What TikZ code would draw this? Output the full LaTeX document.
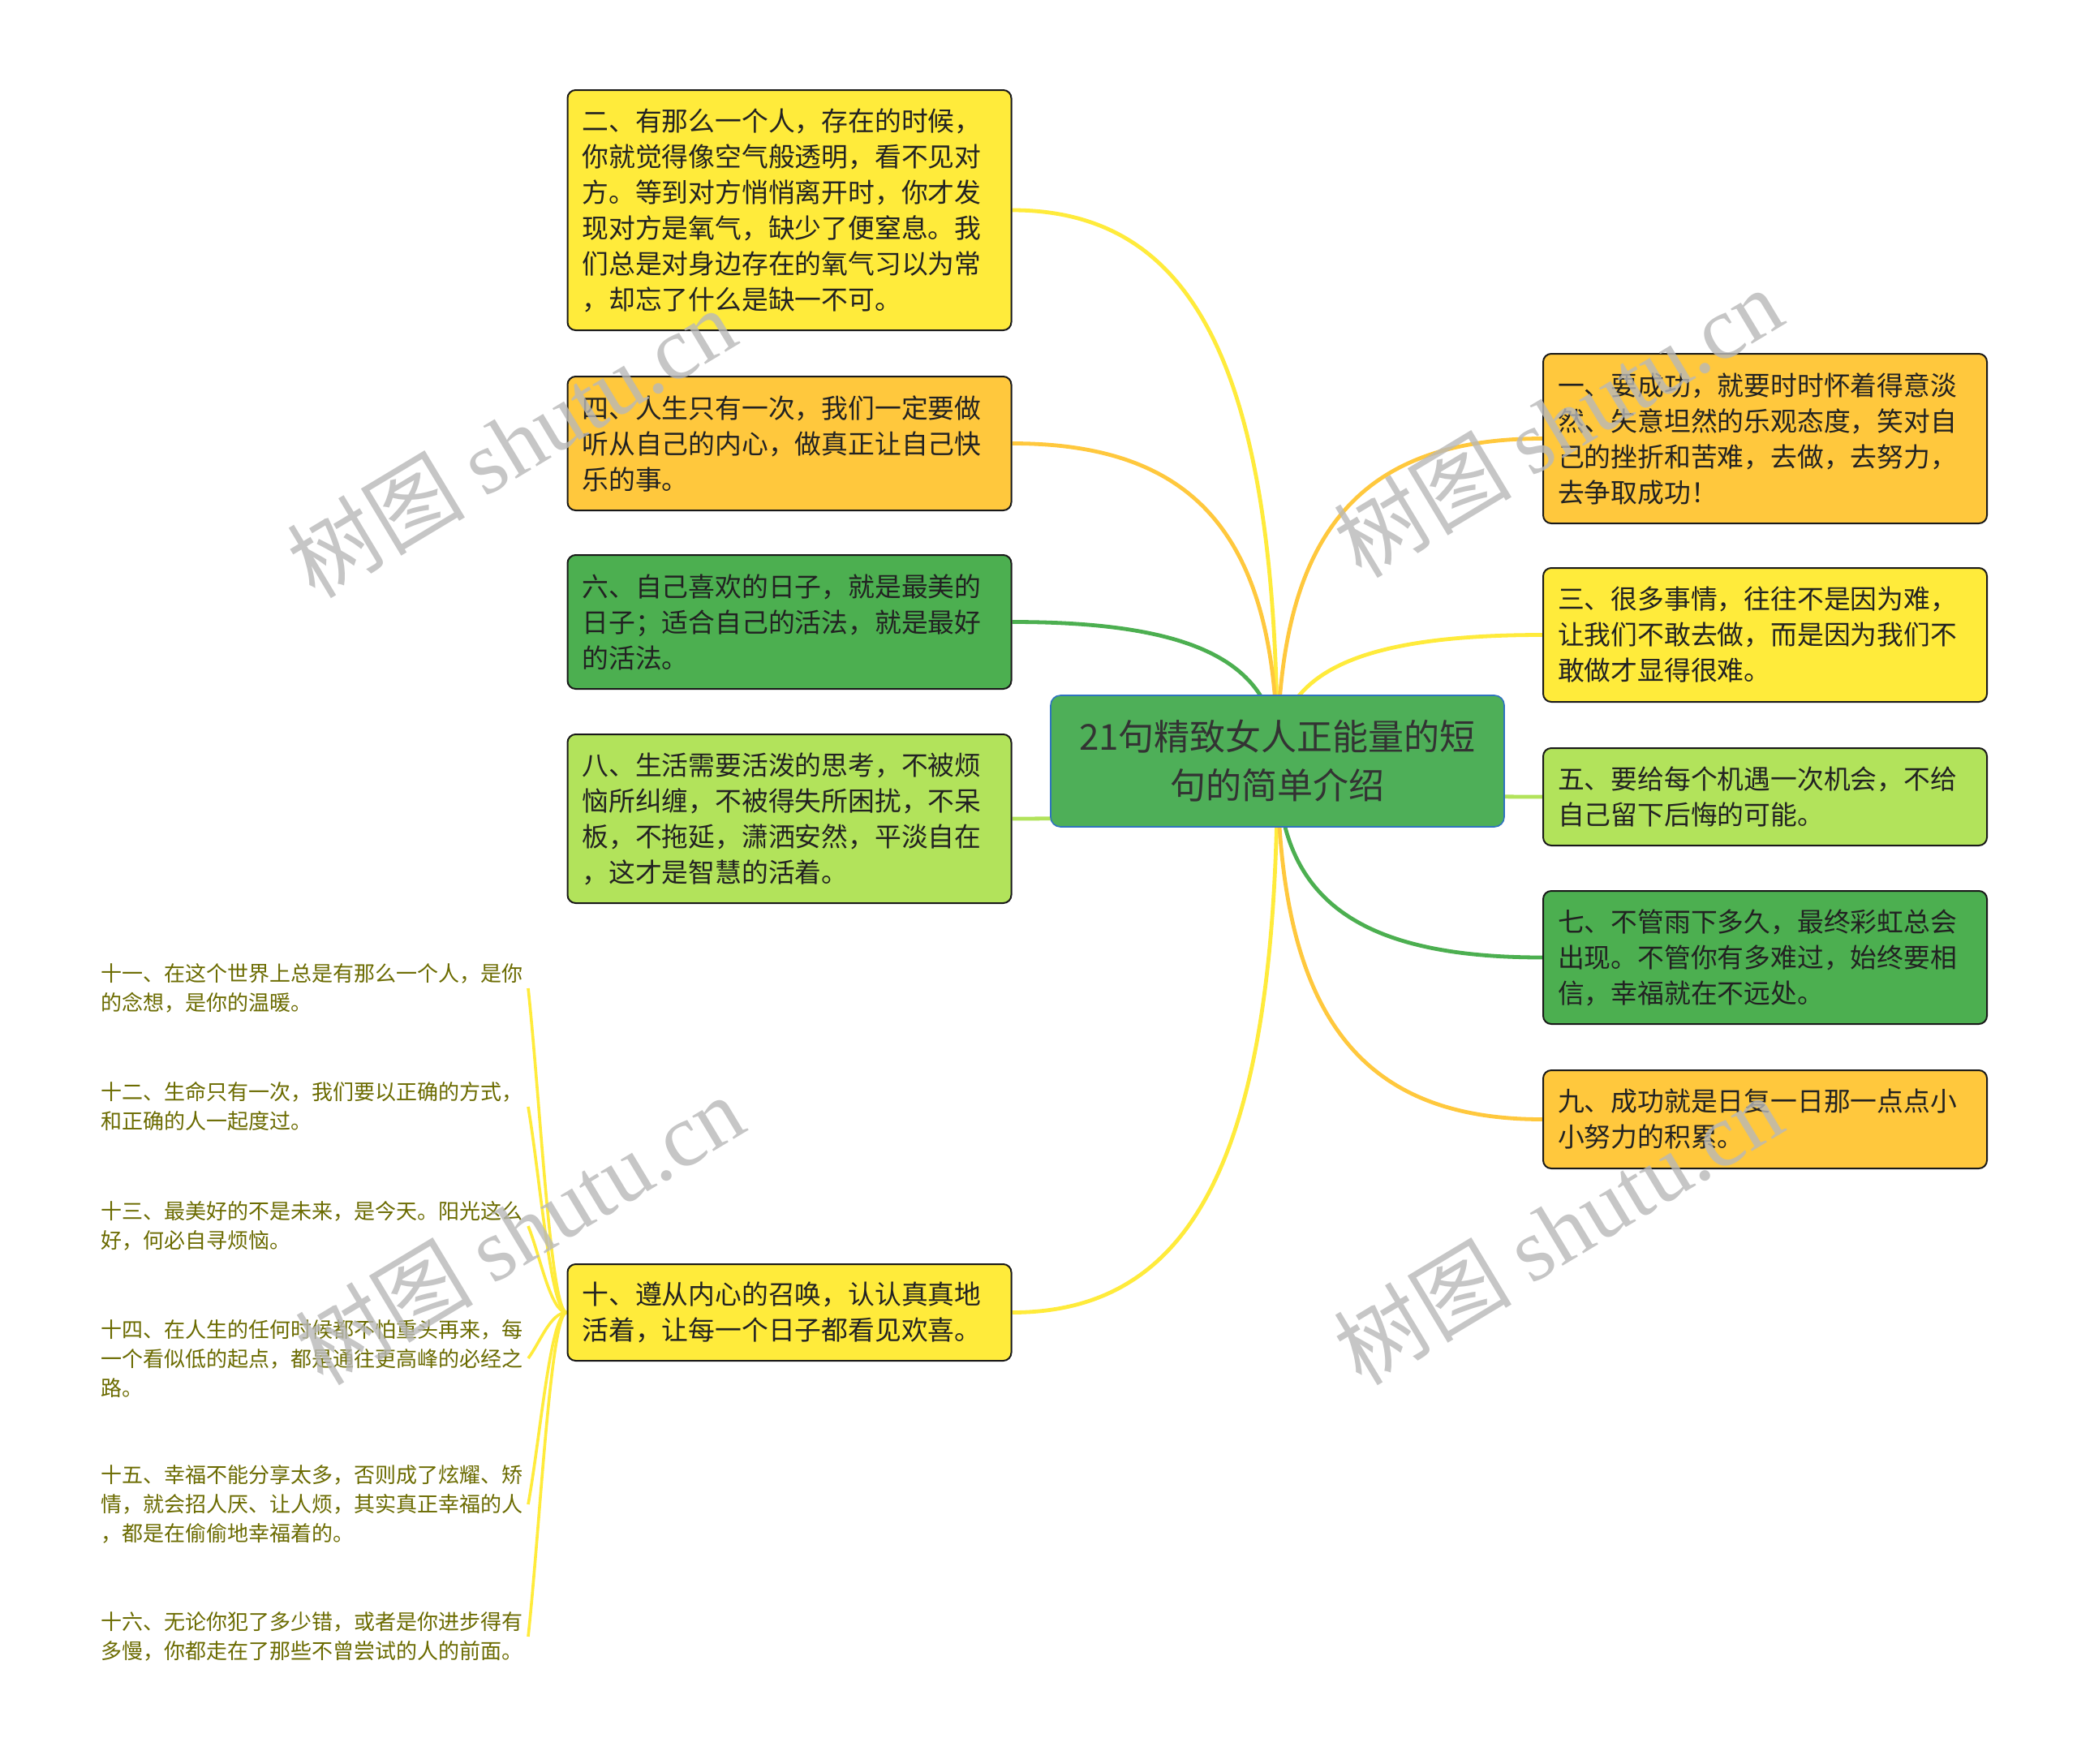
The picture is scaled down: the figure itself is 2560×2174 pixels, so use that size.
\documentclass[tikz,border=0pt]{standalone}
\usepackage{fontspec}
\setmainfont{Noto Sans CJK SC}
\newfontfamily\wmfont{Liberation Serif}
\usepackage{tikz}
\usepackage{xcolor}
\usetikzlibrary{calc}
\usetikzlibrary{backgrounds}

\definecolor{cyellow}{HTML}{FFEB3B}
\definecolor{corange}{HTML}{FFC83D}
\definecolor{cgreen}{HTML}{4CAF50}
\definecolor{clime}{HTML}{B2E35B}
\definecolor{croot}{HTML}{4EAF58}
\definecolor{cblue}{HTML}{2F73C0}
\definecolor{leafolive}{HTML}{6B6B00}
\definecolor{boxtext}{HTML}{222222}

\tikzset{
	box/.style={draw=black!90, line width=1pt, rounded corners=5pt,
		text width=255.5pt, align=left, inner xsep=9pt, inner ysep=0pt,
		font=\fontsize{16.4}{22}\selectfont, text=boxtext},
	leaf/.style={anchor=east, text width=260pt, align=left, inner xsep=3pt,
		font=\fontsize{13}{18}\selectfont, text=leafolive},
	link/.style={line width=2.4pt},
	leafline/.style={line width=1.8pt, draw=cyellow},
	mark wm/.style={text=black!28, opacity=0.8, rotate=31, font=\fontsize{55}{55}\selectfont}
}

\begin{document}
\begin{tikzpicture}[x=0.5pt, y=-0.5pt]
			\useasboundingbox (0,0) rectangle (2560,2174);
			
			% centre
			\node[draw=cblue, line width=0.8pt, fill=croot, rounded corners=6pt,
				minimum width=279.5pt, minimum height=81pt, align=center, text=black!80,
				font=\fontsize{22}{30}\selectfont] (root) at (1574.5,938)
				{21句精致女人正能量的短\\句的简单介绍};
			
			% left column
			\node[box, fill=cyellow, minimum height=148pt] (n2) at (973,259)
				{二、有那么一个人，存在的时候，\\你就觉得像空气般透明，看不见对\\方。等到对方悄悄离开时，你才发\\现对方是氧气，缺少了便窒息。我\\们总是对身边存在的氧气习以为常\\，却忘了什么是缺一不可。};
			\node[box, fill=corange, minimum height=82.5pt] (n4) at (973,546.5)
				{四、人生只有一次，我们一定要做\\听从自己的内心，做真正让自己快\\乐的事。};
			\node[box, fill=cgreen, minimum height=82.5pt] (n6) at (973,766.5)
				{六、自己喜欢的日子，就是最美的\\日子；适合自己的活法，就是最好\\的活法。};
			\node[box, fill=clime, minimum height=104pt] (n8) at (973,1009)
				{八、生活需要活泼的思考，不被烦\\恼所纠缠，不被得失所困扰，不呆\\板，不拖延，潇洒安然，平淡自在\\，这才是智慧的活着。};
			\node[box, fill=cyellow, minimum height=59.5pt] (n10) at (973,1617.5)
				{十、遵从内心的召唤，认认真真地\\活着，让每一个日子都看见欢喜。};
			
			% right column
			\node[box, fill=corange, minimum height=104.5pt] (n1) at (2175.5,540.5)
				{一、要成功，就要时时怀着得意淡\\然、失意坦然的乐观态度，笑对自\\己的挫折和苦难，去做，去努力，\\去争取成功！};
			\node[box, fill=cyellow, minimum height=82.5pt] (n3) at (2175.5,782.5)
				{三、很多事情，往往不是因为难，\\让我们不敢去做，而是因为我们不\\敢做才显得很难。};
			\node[box, fill=clime, minimum height=60pt] (n5) at (2175.5,982)
				{五、要给每个机遇一次机会，不给\\自己留下后悔的可能。};
			\node[box, fill=cgreen, minimum height=82pt] (n7) at (2175.5,1180)
				{七、不管雨下多久，最终彩虹总会\\出现。不管你有多难过，始终要相\\信，幸福就在不远处。};
			\node[box, fill=corange, minimum height=60.5pt] (n9) at (2175.5,1379.5)
				{九、成功就是日复一日那一点点小\\小努力的积累。};
			
			% leaves of n10
			\node[leaf] (l11) at (651,1218) {十一、在这个世界上总是有那么一个人，是你\\的念想，是你的温暖。};
			\node[leaf] (l12) at (651,1364) {十二、生命只有一次，我们要以正确的方式，\\和正确的人一起度过。};
			\node[leaf] (l13) at (651,1511) {十三、最美好的不是未来，是今天。阳光这么\\好，何必自寻烦恼。};
			\node[leaf] (l14) at (651,1674) {十四、在人生的任何时候都不怕重头再来，每\\一个看似低的起点，都是通往更高峰的必经之\\路。};
			\node[leaf] (l15) at (651,1854) {十五、幸福不能分享太多，否则成了炫耀、矫\\情，就会招人厌、让人烦，其实真正幸福的人\\，都是在偷偷地幸福着的。};
			\node[leaf] (l16) at (651,2017) {十六、无论你犯了多少错，或者是你进步得有\\多慢，你都走在了那些不曾尝试的人的前面。};
			
			\begin{scope}[on background layer]
				\fill[white] (0,0) rectangle (2560,2174);
				
				\draw[link, draw=cyellow] (root.center) .. controls ($(root.center)!.7!(root.center |- n2.east)$) and ($(n2.east)!.7!(root.center |- n2.east)$) .. (n2.east);
				\draw[link, draw=corange] (root.center) .. controls ($(root.center)!.7!(root.center |- n4.east)$) and ($(n4.east)!.7!(root.center |- n4.east)$) .. (n4.east);
				\draw[link, draw=cgreen] (root.center) .. controls ($(root.center)!.7!(root.center |- n6.east)$) and ($(n6.east)!.7!(root.center |- n6.east)$) .. (n6.east);
				\draw[link, draw=clime] (root.center) .. controls ($(root.center)!.7!(root.center |- n8.east)$) and ($(n8.east)!.7!(root.center |- n8.east)$) .. (n8.east);
				\draw[link, draw=cyellow] (root.center) .. controls ($(root.center)!.7!(root.center |- n10.east)$) and ($(n10.east)!.7!(root.center |- n10.east)$) .. (n10.east);
				
				\draw[link, draw=corange] (root.center) .. controls ($(root.center)!.7!(root.center |- n1.west)$) and ($(n1.west)!.7!(root.center |- n1.west)$) .. (n1.west);
				\draw[link, draw=cyellow] (root.center) .. controls ($(root.center)!.7!(root.center |- n3.west)$) and ($(n3.west)!.7!(root.center |- n3.west)$) .. (n3.west);
				\draw[link, draw=clime] (root.center) .. controls ($(root.center)!.7!(root.center |- n5.west)$) and ($(n5.west)!.7!(root.center |- n5.west)$) .. (n5.west);
				\draw[link, draw=cgreen] (root.center) .. controls ($(root.center)!.7!(root.center |- n7.west)$) and ($(n7.west)!.7!(root.center |- n7.west)$) .. (n7.west);
				\draw[link, draw=corange] (root.center) .. controls ($(root.center)!.7!(root.center |- n9.west)$) and ($(n9.west)!.7!(root.center |- n9.west)$) .. (n9.west);
				
				\draw[leafline] (n10.west) .. controls +(-20,0) and +(15,140) .. (l11.east);
				\draw[leafline] (n10.west) .. controls +(-20,0) and +(15,89) .. (l12.east);
				\draw[leafline] (n10.west) .. controls +(-20,0) and +(15,37) .. (l13.east);
				\draw[leafline] (n10.west) .. controls +(-20,0) and +(15,-20) .. (l14.east);
				\draw[leafline] (n10.west) .. controls +(-20,0) and +(15,-83) .. (l15.east);
				\draw[leafline] (n10.west) .. controls +(-20,0) and +(15,-140) .. (l16.east);
			\end{scope}
			
			% watermarks
			\node[mark wm] (wm1) at (630,545) {树图 {\wmfont shutu.cn}};
			\node[mark wm] (wm2) at (1920,520) {树图 {\wmfont shutu.cn}};
			\node[mark wm] (wm3) at (640,1515) {树图 {\wmfont shutu.cn}};
			\node[mark wm] (wm4) at (1920,1515) {树图 {\wmfont shutu.cn}};
		\end{tikzpicture}
\end{document}
